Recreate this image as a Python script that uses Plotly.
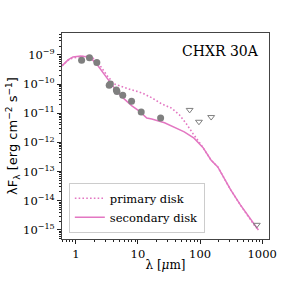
import plotly.graph_objects as go

# Observed photometry (um, erg cm^-2 s^-1)
obs_wl = [1.24, 1.66, 2.18, 3.45, 3.6, 4.5, 4.6, 5.7, 7.9, 11.3, 23.2]
obs_flux = [6.6e-10, 7.9e-10, 5.5e-10, 9.1e-11, 1.0e-10, 6.2e-11, 5.6e-11, 4.1e-11, 2.6e-11, 1.1e-11, 6.9e-12]

# Upper limits
ul_wl = [68, 96, 151, 820]
ul_flux = [1.3e-11, 5.1e-12, 7.4e-12, 1.5e-15]

# Models
sec_wl = [0.6, 0.75, 0.9, 1.2, 1.55, 1.86, 2.23, 2.68, 3.47, 4.64, 6.0, 8.0, 10.4, 13.9, 16.7,
          26.8, 55.7, 80, 112, 150, 193, 310, 446, 776, 870]
sec_flux = [4.2e-10, 6.7e-10, 8.5e-10, 9.2e-10, 8.5e-10, 6.7e-10, 4.5e-10, 2.6e-10, 1.2e-10,
            5.4e-11, 3.1e-11, 1.8e-11, 1.2e-11, 6.9e-12, 6.3e-12, 4.7e-12, 2.3e-12, 1.4e-12,
            6.6e-13, 2.5e-13, 1.45e-13, 2.4e-14, 7.2e-15, 1.3e-15, 1.0e-15]

pri_wl = [0.6, 0.8, 1.08, 1.73, 2.23, 3.22, 4.16, 5.57, 8.0, 11.6, 16.7, 24, 34.7, 46.4, 60, 77,
          104, 150, 193, 310, 446, 776, 870]
pri_flux = [4.3e-10, 7.3e-10, 8.5e-10, 9.2e-10, 5.8e-10, 1.9e-10, 1.0e-10, 8.0e-11, 6.3e-11,
            5.0e-11, 3.4e-11, 2.1e-11, 1.5e-11, 8.9e-12, 4.4e-12, 2.0e-12, 8.3e-13, 2.5e-13,
            1.45e-13, 2.4e-14, 7.2e-15, 1.3e-15, 1.0e-15]

x_ticks = [1, 10, 100, 1000]
x_ticktext = ["1", "10", "100", "1000"]
y_exps = [-15, -14, -13, -12, -11, -10, -9]

PINK = "#e377c2"
GRAY = "#7f7f7f"
SERIF = "DejaVu Serif"

x_minor = [m * 10 ** e for e in range(-1, 4) for m in range(2, 10)]
y_minor = [m * 10 ** e for e in range(-16, -8) for m in range(2, 10)]

fig = go.Figure()
fig.add_trace(go.Scatter(x=pri_wl, y=pri_flux, mode="lines", name="primary disk",
                         line=dict(color=PINK, width=1.6, dash="1.6px,2.2px")))
fig.add_trace(go.Scatter(x=sec_wl, y=sec_flux, mode="lines", name="secondary disk",
                         line=dict(color=PINK, width=1.5)))
fig.add_trace(go.Scatter(x=obs_wl, y=obs_flux, mode="markers", showlegend=False,
                         marker=dict(color=GRAY, size=7, symbol="circle")))
fig.add_trace(go.Scatter(x=ul_wl, y=ul_flux, mode="markers", showlegend=False,
                         marker=dict(color=GRAY, size=6, symbol="triangle-down-open",
                                     line=dict(width=1))))

fig.add_annotation(text="CHXR 30A", xref="paper", yref="paper", x=0.96, y=0.915,
                   xanchor="right", yanchor="middle", showarrow=False,
                   font=dict(family=SERIF, size=14, color="black"))

axis_common = dict(type="log", showgrid=False, zeroline=False, showline=True,
                   linecolor="#444", linewidth=1, mirror=True, ticks="outside",
                   ticklen=4, tickcolor="#222",
                   tickfont=dict(family=SERIF, size=11.5, color="black"))

fig.update_xaxes(**axis_common, range=[-0.222, 3.11], tickvals=x_ticks, ticktext=x_ticktext,
                 minor=dict(ticks="outside", ticklen=2, tickcolor="#222", showgrid=False,
                            tickvals=x_minor),
                 title=dict(text="λ [<i>μ</i>m]", font=dict(family=SERIF, size=12, color="black"),
                            standoff=0))
fig.update_yaxes(**axis_common, range=[-15.31, -8.25],
                 tickvals=[10 ** e for e in y_exps],
                 ticktext=["10<sup>−%d</sup>" % (-e) for e in y_exps],
                 minor=dict(ticks="outside", ticklen=2, tickcolor="#222", showgrid=False,
                            tickvals=y_minor),
                 title=dict(text="λF<sub>λ</sub> [erg cm<sup>−2</sup> s<sup>−1</sup>]",
                            font=dict(family="DejaVu Sans", size=13, color="black"),
                            standoff=2))

fig.update_layout(width=299, height=282, margin=dict(l=59, r=30, t=33, b=43),
                  plot_bgcolor="white", paper_bgcolor="white",
                  legend=dict(x=0.033, y=0.03, xanchor="left", yanchor="bottom",
                              bgcolor="rgba(255,255,255,0.8)", bordercolor="#ccc",
                              borderwidth=1, font=dict(family=SERIF, size=11.5, color="black"),
                              tracegroupgap=0, itemwidth=30))

fig.write_html("out.html", config={"displayModeBar": False},
               post_script="document.body.style.margin='0';")
